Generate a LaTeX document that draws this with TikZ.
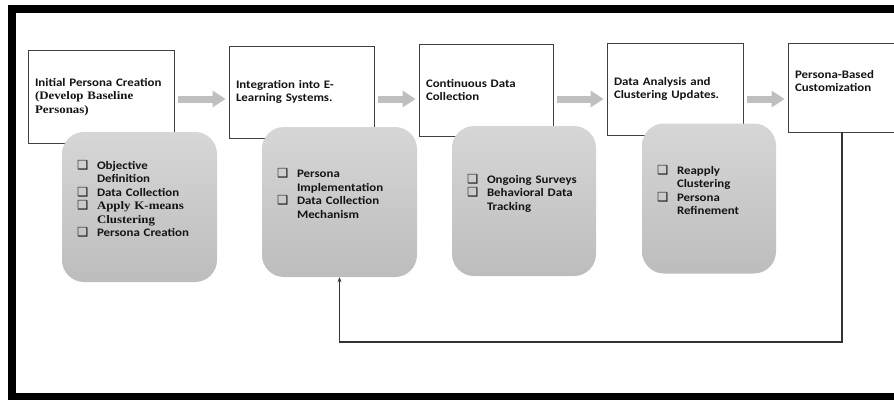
\documentclass[tikz,border=0pt]{standalone}
\usepackage{fontspec}
\setmainfont{Carlito}[FakeStretch=1.12]
\newfontfamily\oldserif{Liberation Serif}[FakeStretch=1.12]
\newfontfamily\symfont{DejaVu Sans}
\usetikzlibrary{arrows.meta}
\newcommand{\chk}{\makebox[20pt][l]{\symfont\fontsize{12.5}{13}\selectfont ❑}}
\newcommand{\tnr}[1]{{\oldserif\bfseries #1}}

\begin{document}
\begin{tikzpicture}[x=1pt,y=-1pt,
  every node/.style={font=\fontsize{11.5}{13.5}\selectfont\bfseries, text=black!92},
  stage/.style={draw=black!75, line width=0.8pt, fill=white, align=left, inner xsep=7pt, inner ysep=0pt},
  note/.style={rounded corners=22pt, top color=black!16, bottom color=black!26, align=left, inner xsep=15pt, inner ysep=0pt, minimum height=150pt},
  flow/.style={-{Triangle[length=13pt,width=16pt]}, line width=7pt, draw=black!25, shorten <=4pt, shorten >=3pt},
  back/.style={-{Stealth[length=5pt,width=4pt]}, draw=black!80, line width=1.1pt}]
  \useasboundingbox (0,0) rectangle (894,399);
  \draw[line width=8pt] (12,9) rectangle (930,397);

  % stages along the top row
  \node[stage, minimum width=146pt, minimum height=93pt, text width=132pt] (b1) at (101,97)
    {Initial Persona Creation\\ \tnr{(Develop Baseline}\\ \tnr{Personas)}};
  \node[stage, minimum width=145pt, minimum height=92pt, text width=131pt] (b2) at (301.5,92)
    {Integration into E-\\Learning Systems.};
  \node[stage, minimum width=134pt, minimum height=92pt, text width=120pt] (b3) at (486,90)
    {Continuous Data\\Collection};
  \node[stage, minimum width=136pt, minimum height=92pt, text width=122pt] (b4) at (675,89)
    {Data Analysis and\\Clustering Updates.};
  \node[stage, minimum width=108pt, minimum height=89pt, text width=94pt] (b5) at (842,87.5)
    {Persona-Based\\Customization\\\mbox{}};

  % sub-steps
  \node[note, minimum width=155pt, text width=125pt] (g1) at (139.5,207) {%
    \begin{tabular}{@{}l@{}l@{}}
      \chk & Objective\\
           & Definition\\
      \chk & Data Collection\\
      \chk & \tnr{Apply K-means}\\
           & \tnr{Clustering}\\
      \chk & Persona Creation\\
           &
    \end{tabular}};
  \node[note, minimum width=155pt, text width=125pt] (g2) at (339.5,202) {%
    \begin{tabular}{@{}l@{}l@{}}
      \chk & Persona\\
           & Implementation\\
      \chk & Data Collection\\
           & Mechanism\\
           &
    \end{tabular}};
  \node[note, minimum width=144pt, text width=114pt] (g3) at (524,201) {%
    \begin{tabular}{@{}l@{}l@{}}
      \chk & Ongoing Surveys\\
      \chk & Behavioral Data\\
           & Tracking\\
           &
    \end{tabular}};
  \node[note, minimum width=134pt, text width=104pt] (g4) at (709,198.5) {%
    \begin{tabular}{@{}l@{}l@{}}
      \chk & Reapply\\
           & Clustering\\
      \chk & Persona\\
           & Refinement\\
           &
    \end{tabular}};

  \coordinate (row) at (0,99);
  \foreach \a/\b in {b1/b2,b2/b3,b3/b4,b4/b5}
    \draw[flow] (\a.east |- row) -- (\b.west |- row);

  % loop back to integration
  \coordinate (loop) at (339.5,342);
  \draw[back] (b5.south) |- (loop) -- (g2.south);
\end{tikzpicture}
\end{document}
